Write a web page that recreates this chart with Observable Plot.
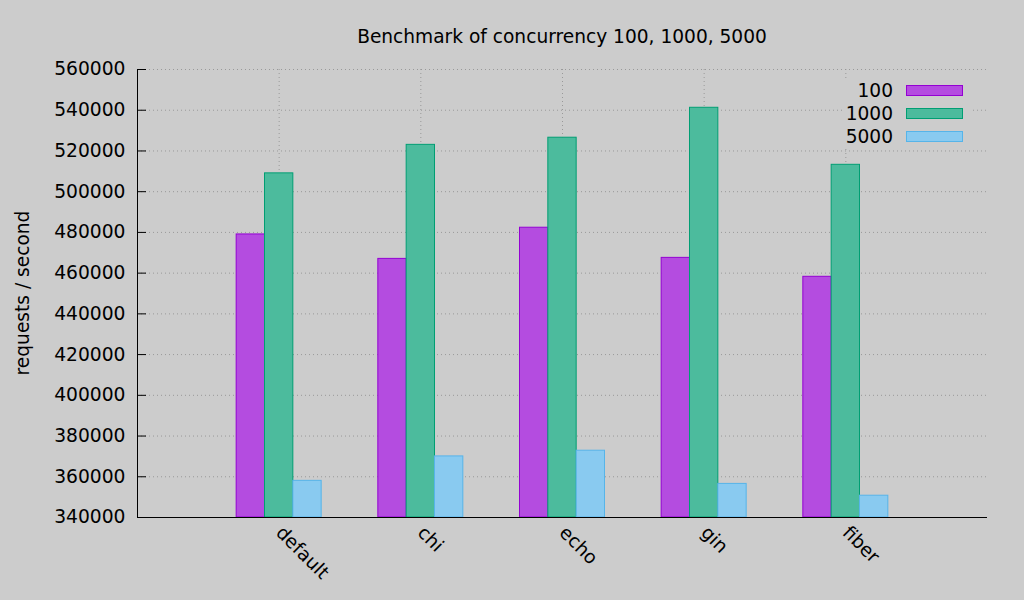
<!DOCTYPE html>
<html>
<head>
<meta charset="utf-8">
<script src="https://cdn.jsdelivr.net/npm/d3@7"></script>
<script src="https://cdn.jsdelivr.net/npm/@observablehq/plot@0.6"></script>
<style>
  html, body { margin: 0; padding: 0; background: #cccccc; }
  body { width: 1024px; height: 600px; position: relative; overflow: hidden; font-family: "DejaVu Sans", sans-serif; }
  #chart { position: absolute; left: 0; top: 0; }
  #title { position: absolute; left: 137px; width: 850px; top: 26px; text-align: center; font-size: 18.6px; color: #000; }
  #ylabel { position: absolute; left: 22px; top: 293px; transform: translate(-50%, -50%) rotate(-90deg); white-space: nowrap; font-size: 18.6px; color: #000; }
  #legend { position: absolute; left: 843px; top: 79px; width: 130px; background: #cccccc; font-size: 18.6px; }
  .row { display: flex; align-items: center; height: 23px; }
  .lab { width: 50px; text-align: right; margin-right: 13px; }
  .sw { width: 57px; height: 11px; box-sizing: border-box; }
</style>
</head>
<body>
<div id="chart"></div>
<div id="title">Benchmark of concurrency 100, 1000, 5000</div>
<div id="ylabel">requests / second</div>
<div id="legend"></div>
<script>
const categories = ["default", "chi", "echo", "gin", "fiber"];
const seriesNames = ["100", "1000", "5000"];
const v100  = [479000, 467000, 482300, 467500, 458200];
const v1000 = [509000, 523000, 526500, 541200, 513200];
const v5000 = [358000, 370000, 372800, 356500, 350700];
const fillColors = ["#b44ce0", "#4cbb9d", "#89caf0"];
const strokeColors = ["#9400d3", "#009e73", "#56b4e9"];
const yTicks = d3.range(340000, 560001, 20000);
const xDomain = [-1, 5];
const yDomain = [340000, 560000];

const seriesValues = [v100, v1000, v5000];
const rows = [];
categories.forEach((c, i) => {
  seriesValues.forEach((vals, k) => {
    rows.push({i, k, cat: c, series: seriesNames[k], value: vals[i]});
  });
});
const barW = 0.2;

const plot = Plot.plot({
  width: 1024,
  height: 600,
  marginLeft: 137,
  marginRight: 37,
  marginTop: 69,
  marginBottom: 83,
  style: {background: "#cccccc", fontFamily: "DejaVu Sans, sans-serif", fontSize: "18.7px", color: "#000"},
  x: {domain: xDomain, ticks: categories.map((c, i) => i)},
  y: {domain: yDomain, ticks: yTicks},
  color: {type: "identity"},
  marks: [
    Plot.gridY(yTicks, {stroke: "#999", strokeOpacity: 1, strokeDasharray: "1,3", strokeWidth: 1}),
    Plot.gridX(categories.map((c, i) => i), {stroke: "#999", strokeOpacity: 1, strokeDasharray: "1,3", strokeWidth: 1}),
    Plot.rect(rows, {
      x1: d => d.i - 1.5 * barW + d.k * barW,
      x2: d => d.i - 0.5 * barW + d.k * barW,
      y1: yDomain[0],
      y2: "value",
      fill: d => fillColors[d.k],
      stroke: d => strokeColors[d.k],
      strokeWidth: 1
    }),
    Plot.axisY(yTicks, {tickSize: -9, tickPadding: 21, tickFormat: d3.format("d"), label: null, stroke: "#000"}),
    Plot.axisX(categories.map((c, i) => i), {tickSize: 0, tickRotate: 45, textAnchor: "start", tickPadding: 12, tickFormat: i => categories[i], label: null}),
    Plot.ruleX([xDomain[0]], {stroke: "#000", strokeWidth: 1}),
    Plot.ruleY([yDomain[0]], {stroke: "#000", strokeWidth: 1})
  ]
});
document.getElementById("chart").appendChild(plot);

const legend = document.getElementById("legend");
seriesNames.forEach((s, k) => {
  const row = document.createElement("div");
  row.className = "row";
  row.innerHTML = `<span class="lab">${s}</span><span class="sw" style="background:${fillColors[k]};border:1px solid ${strokeColors[k]}"></span>`;
  legend.appendChild(row);
});
</script>
</body>
</html>
